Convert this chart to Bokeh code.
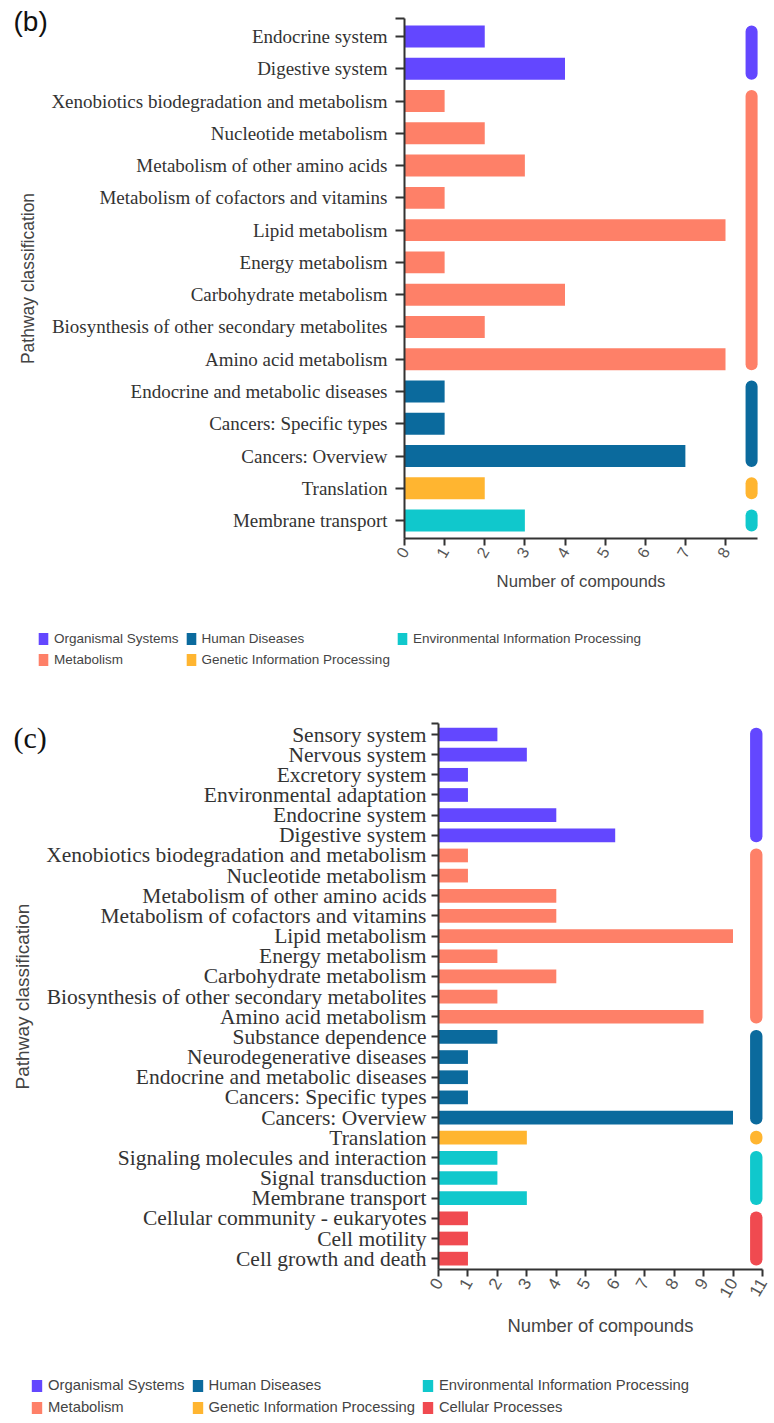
import math
from bokeh.plotting import figure
from bokeh.models import (Range1d, FixedTicker, Legend, LegendItem, Label,
                          ColumnDataSource)
from bokeh.layouts import column
from bokeh.embed import file_html
from bokeh.resources import INLINE

# ---------------- data ----------------
group_names = ["Organismal Systems", "Metabolism", "Human Diseases",
               "Genetic Information Processing",
               "Environmental Information Processing", "Cellular Processes"]
group_colors = ["#6347FF", "#FE8068", "#0B6A9D", "#FFB530", "#10C8CC", "#F04A50"]

b_pathways = ["Endocrine system", "Digestive system",
              "Xenobiotics biodegradation and metabolism", "Nucleotide metabolism",
              "Metabolism of other amino acids", "Metabolism of cofactors and vitamins",
              "Lipid metabolism", "Energy metabolism", "Carbohydrate metabolism",
              "Biosynthesis of other secondary metabolites", "Amino acid metabolism",
              "Endocrine and metabolic diseases", "Cancers: Specific types",
              "Cancers: Overview", "Translation", "Membrane transport"]
b_counts = [2, 4, 1, 2, 3, 1, 8, 1, 4, 2, 8, 1, 1, 7, 2, 3]
b_groups = ["Organismal Systems"] * 2 + ["Metabolism"] * 9 + ["Human Diseases"] * 3 + \
           ["Genetic Information Processing"] + ["Environmental Information Processing"]
b_xticks = [0, 1, 2, 3, 4, 5, 6, 7, 8]

c_pathways = ["Sensory system", "Nervous system", "Excretory system",
              "Environmental adaptation", "Endocrine system", "Digestive system",
              "Xenobiotics biodegradation and metabolism", "Nucleotide metabolism",
              "Metabolism of other amino acids", "Metabolism of cofactors and vitamins",
              "Lipid metabolism", "Energy metabolism", "Carbohydrate metabolism",
              "Biosynthesis of other secondary metabolites", "Amino acid metabolism",
              "Substance dependence", "Neurodegenerative diseases",
              "Endocrine and metabolic diseases", "Cancers: Specific types",
              "Cancers: Overview", "Translation", "Signaling molecules and interaction",
              "Signal transduction", "Membrane transport",
              "Cellular community - eukaryotes", "Cell motility", "Cell growth and death"]
c_counts = [2, 3, 1, 1, 4, 6, 1, 1, 4, 4, 10, 2, 4, 2, 9, 2, 1, 1, 1, 10, 3, 2, 2, 3, 1, 1, 1]
c_groups = ["Organismal Systems"] * 6 + ["Metabolism"] * 9 + ["Human Diseases"] * 5 + \
           ["Genetic Information Processing"] + ["Environmental Information Processing"] * 3 + \
           ["Cellular Processes"] * 3
c_xticks = [0, 1, 2, 3, 4, 5, 6, 7, 8, 9, 10, 11]

color_of = dict(zip(group_names, group_colors))

W = 770


def build(pathways, counts, groups, xticks, g):
    n = len(pathways)
    idx = list(range(n))
    H = g["H"]
    ux = g["ux"]            # px per count unit
    uy = g["uy"]            # px per row
    x_start = -g["x0"] / ux
    x_end = (W - g["x0"]) / ux
    y_top = -g["r0"] / uy
    y_bot = (H - g["r0"]) / uy
    xmax = xticks[-1] + g["xext"]
    pad = g["pad"]
    p = figure(width=W, height=H, min_border=0,
               x_range=Range1d(x_start, x_end), y_range=Range1d(y_bot, y_top),
               output_backend="svg", toolbar_location=None)
    p.xgrid.visible = False
    p.ygrid.visible = False
    p.outline_line_color = None
    p.background_fill_color = "white"

    legend_items = []
    seen = []
    for grp in groups:
        if grp not in seen:
            seen.append(grp)
    for grp in seen:
        ys = [i for i in idx if groups[i] == grp]
        src = ColumnDataSource(dict(y=ys, right=[counts[i] for i in ys]))
        r = p.hbar(y="y", left=0, right="right", height=g["bh"], source=src,
                   fill_color=color_of[grp], line_color=None)
        legend_items.append(LegendItem(label=grp, renderers=[r]))
        p.quad(left=[xmax - g["sw"]], right=[xmax],
               top=[min(ys) - g["bh"] / 2], bottom=[max(ys) + g["bh"] / 2],
               fill_color=color_of[grp], line_color=None, border_radius=6)

    # y axis
    top_tick = round(-pad + 0.01, 3)
    ya = p.yaxis[0]
    ya.fixed_location = 0
    ya.bounds = (-pad, n - 1 + pad)
    ya.ticker = FixedTicker(ticks=[top_tick] + idx)
    ov = {i: pathways[i] for i in idx}
    ov[top_tick] = ""
    ya.major_label_overrides = ov
    ya.major_label_text_font = "Liberation Serif"
    ya.major_label_text_font_size = g["ylab"]
    ya.major_label_text_color = "#333333"
    ya.major_label_standoff = g["yst"]
    ya.major_tick_out = g["yto"]
    ya.major_tick_in = 0
    ya.minor_tick_out = 0
    ya.minor_tick_in = 0
    ya.axis_line_width = 2
    ya.axis_line_color = "#333333"
    ya.major_tick_line_width = 2
    ya.major_tick_line_color = "#333333"
    ya.axis_label = "Pathway classification"
    ya.axis_label_text_font = "Liberation Sans"
    ya.axis_label_text_font_style = "normal"
    ya.axis_label_text_font_size = g["yal"]
    ya.axis_label_text_color = "#444444"
    ya.axis_label_standoff = 10

    # x axis
    xa = p.xaxis[0]
    xa.fixed_location = n - 1 + pad
    xa.bounds = (0, xmax)
    xa.ticker = FixedTicker(ticks=xticks)
    xa.major_label_orientation = math.pi / 3
    xa.major_label_text_font = "Liberation Sans"
    xa.major_label_text_font_size = g["xlab"]
    xa.major_label_text_color = "#555555"
    xa.major_label_standoff = 3
    xa.major_tick_out = 7
    xa.major_tick_in = 0
    xa.minor_tick_out = 0
    xa.minor_tick_in = 0
    xa.axis_line_width = 2
    xa.axis_line_color = "#333333"
    xa.major_tick_line_width = 2
    xa.major_tick_line_color = "#333333"
    xa.axis_label = "Number of compounds"
    xa.axis_label_text_font = "Liberation Sans"
    xa.axis_label_text_font_style = "normal"
    xa.axis_label_text_font_size = g["xal"]
    xa.axis_label_text_color = "#444444"
    xa.axis_label_standoff = g["xals"]

    legend = Legend(items=legend_items, location=(g["lx"], H - g["lb"]),
                    orientation="vertical", nrows=2,
                    glyph_width=g["gw"], glyph_height=15, label_standoff=5,
                    spacing=6, padding=0, margin=0,
                    border_line_color=None, background_fill_alpha=0,
                    label_text_font="Liberation Sans",
                    label_text_font_size=g["legfs"],
                    label_text_color="#444444")
    p.add_layout(legend)

    p.add_layout(Label(x=g["tx"], y=H - g["ty"], x_units="screen", y_units="screen",
                       text=g["tag"], text_font=g["tagfont"],
                       text_font_size=g["tagfs"], text_color="#111111",
                       text_align="left", text_baseline="middle"))
    return p


geo_b = dict(H=690, x0=404, ux=40.125, r0=36, uy=32.27, pad=0.56, bh=0.68, xext=0.8,
             sw=0.3, ylab="19px", yal="17.5px", xlab="16px", xal="16.7px", xals=7,
             yto=9, yst=8,
             lx=37, lb=667, gw=12, legfs="13.5px",
             tx=13, ty=21, tag="(b)", tagfont="Liberation Sans", tagfs="28px")
geo_c = dict(H=728, x0=438, ux=29.45, r0=44, uy=20.16, pad=0.54, bh=0.68, xext=0.0,
             sw=0.42, ylab="21.5px", yal="19px", xlab="17px", xal="18.4px", xals=10,
             yto=7, yst=5,
             lx=30, lb=725, gw=13, legfs="14.8px",
             tx=13, ty=47, tag="(c)", tagfont="Liberation Serif", tagfs="30px")

pb = build(b_pathways, b_counts, b_groups, b_xticks, geo_b)
pc = build(c_pathways, c_counts, c_groups, c_xticks, geo_c)

layout = column(pb, pc, spacing=0)
open("out.html", "w").write(file_html(layout, INLINE))
